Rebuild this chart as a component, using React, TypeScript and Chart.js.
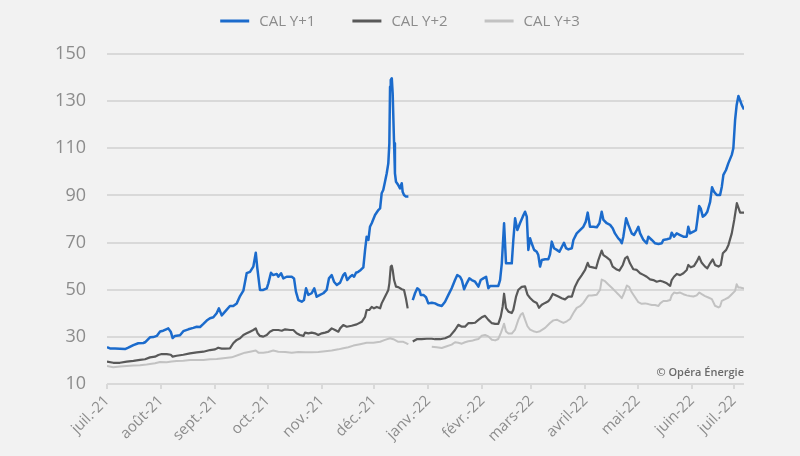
import React, { useEffect, useRef } from "react";
import { Chart, registerables } from "chart.js";

Chart.register(...registerables);

const monthLabels = ["juil.-21", "août-21", "sept.-21", "oct.-21", "nov.-21", "déc.-21", "janv.-22", "févr.-22", "mars-22", "avril-22", "mai-22", "juin-22", "juil.-22"];
const tickDays = [0, 31, 62, 92, 123, 153, 184, 215, 243, 274, 304, 335, 359];
const yTicks = [10, 30, 50, 70, 90, 110, 130, 150];

const seriesNames = ["CAL Y+1", "CAL Y+2", "CAL Y+3"];

// CAL Y+1 (day index from 1 July 2021, value)
const y1Days = [0, 1.7, 4.6, 7.4, 10.3, 12.2, 15.1, 17.9, 20.8, 21.8, 24.6, 26.5, 28.5, 30.4, 32.2, 34.2, 35.1, 36.5, 37.6, 38.9, 41.8, 43.7, 46.6, 49.4, 51.4, 53.3, 55.2, 57.1, 59.0, 60.9, 62.8, 64.1, 65.7, 67.6,
  70.4, 72.3, 74.3, 76.2, 78.1, 80.0, 81.9, 83.8, 85.2, 86.1, 87.6, 89.5, 91.5, 92.4, 93.9, 95.2, 97.2, 98.1, 99.7, 101.0, 102.9, 105.8, 107.1, 108.2, 109.6, 111.5, 112.8, 114.0, 115.3, 117.2, 118.7, 120.1, 122.0, 123.9, 125.8, 127.1, 128.7, 130.0, 131.6,
  133.5, 135.3, 136.3, 137.6, 139.2, 140.5, 141.5, 142.6, 143.9, 145.3, 146.8, 147.8, 148.7, 149.7, 150.6, 151.6, 153.5, 155.4, 156.4, 157.3, 158.2, 159.2, 160.2, 161.1, 161.7, 162.1, 162.5, 163.1, 163.6, 164.4, 164.9, 165.5, 166.8, 167.8, 168.8, 169.3, 170.1, 171.2, 172.6,
  174,
  175.1, 176.4, 177.7, 178.9, 179.7, 181.2, 182.7, 184.0, 186.0, 187.9, 189.7, 191.7, 193.6, 195.5, 197.4, 199.3, 200.6, 202.2, 203.2, 204.5, 206.0, 207.5, 208.9, 210.8, 212.7, 214.0, 215.5, 217.1, 218.4, 219.4, 221.2, 224.1, 225.1, 226.1, 227.4, 228.5, 230.4, 231.8, 232.7, 233.7, 235.0, 236.5, 238.1, 239.4, 240.4, 241.3, 242.3, 243.2, 244.6, 246.1, 247.0, 248.0, 249.0, 250.9, 252.7, 253.7,
  254.7, 256.0, 257.6, 259.1, 260.4, 261.7, 262.9, 264.2, 266.2, 267.1, 269.0, 270.9, 272.8, 274.2, 275.3, 276.6, 278.5, 280.5, 282.0, 283.3, 284.3, 286.2, 288.1, 289.6, 290.9, 292.8,
  293.8, 294.8, 295.7, 297.3, 298.6, 300.5, 301.8, 303.4, 304.3, 305.3, 307.2, 309.1, 310.0, 312.0, 313.9, 315.8, 317.7, 318.6, 320.6, 322.5, 323.4, 324.7, 326.3, 328.2, 330.1, 332.0, 332.9, 333.9, 335.8, 337.3, 338.1, 339.1, 340.0, 341.2, 342.5, 343.8, 345.4, 346.5, 347.6, 349.2, 351.1, 352.1, 353.0, 354.5, 355.8, 357.8, 358.7, 359.7, 360.6, 361.6, 362.5, 363.5, 364.8];
const y1Values = [25.6, 25.1, 25.1, 25.0, 24.8, 25.4, 26.5, 27.3, 27.4, 27.7, 29.8, 29.9, 30.4, 32.3, 32.6, 33.3, 33.6, 32.2, 29.5, 30.4, 30.7, 32.4, 33.2, 33.8, 34.3, 34.2, 35.5, 36.9, 37.9, 38.3, 40.0, 42.1, 39.1, 40.7,
  43.1, 43.1, 44.2, 47.3, 49.6, 57.0, 57.6, 59.8, 65.7, 59.1, 49.9, 49.9, 50.6, 52.7, 57.2, 56.2, 56.7, 55.5, 57.0, 54.8, 55.5, 55.5, 54.8, 49.2, 45.6, 44.9, 45.6, 50.6, 47.8, 48.5, 50.6, 47.0, 47.8, 48.5, 49.9, 54.8, 56.2, 53.4, 52.0,
  53.0, 56.2, 57.0, 54.1, 55.5, 56.2, 55.5, 57.2, 57.6, 58.4, 59.5, 66.9, 72.5, 71.1, 76.7, 78.2, 81.7, 83.8, 84.5, 90.9, 92.3, 95.8, 99.4, 103.6, 112.1, 136.1, 139.0, 139.7, 133.3, 112.1, 99.4, 95.8, 94.4, 93.0, 95.2, 91.6, 90.2, 89.5, 89.5,
  null,
  45.6, 48.5, 50.6, 49.9, 47.8, 47.8, 46.8, 44.2, 44.5, 44.2, 43.5, 43.1, 44.9, 47.8, 50.6, 54.1, 56.2, 55.5, 54.1, 50.2, 52.7, 54.8, 54.1, 53.4, 51.3, 54.1, 54.8, 55.5, 50.6, 51.6, 51.6, 51.6, 54.1, 61.2, 78.2, 61.2, 61.2, 61.2, 71.1, 80.3, 75.3, 78.2, 81.0, 83.1, 81.0, 66.9, 71.8, 69.7, 66.9, 66.1, 64.7, 59.8, 62.6, 62.9, 62.9, 65.0,
  70.4, 67.6, 66.9, 66.1, 68.0, 69.9, 67.6, 67.1, 67.6, 71.1, 73.9, 75.3, 76.7, 78.9, 82.7, 76.7, 76.7, 76.5, 78.2, 83.1, 79.6, 78.2, 77.5, 76.1, 73.9, 71.8,
  71.1, 69.7, 72.5, 80.3, 77.5, 73.9, 73.2, 75.3, 76.7, 73.9, 71.1, 69.7, 72.5, 71.1, 69.7, 69.4, 69.7, 71.1, 71.4, 71.8, 74.2, 72.5, 73.9, 73.2, 72.5, 72.5, 76.7, 73.9, 74.6, 75.3, 79.6, 85.5, 84.5, 81.0, 81.7, 83.1, 87.3, 93.5, 91.6, 90.2, 90.2, 93.7, 98.7, 100.8, 103.6, 107.2, 110.0, 122.0, 128.4, 132.2, 130.5, 128.4, 126.5];

// CAL Y+2
const y2Days = [0, 3.6, 7.4, 11.3, 15.1, 18.9, 21.8, 24.6, 27.5, 29.4, 31.3, 34.2, 36.5, 37.6, 39.9, 43.7, 47.5, 51.4, 55.2, 59.0, 61.9, 63.7, 65.7, 67.6,
  70.4, 72.3, 74.3, 76.2, 78.1, 80.0, 81.9, 83.8, 85.2, 86.3, 87.6, 89.5, 91.5, 93.3, 95.2, 98.1, 100.1, 102.0, 104.8, 106.7, 108.6, 110.5, 112.5, 113.4, 115.3, 117.2, 119.1, 121.0, 123.0, 124.9, 126.7, 128.7, 130.6, 132.5,
  133.5, 135.3, 137.3, 140.1, 143.0, 145.9, 147.8, 148.7, 150.2, 151.6, 152.9, 154.5, 156.4, 157.3, 158.7, 160.2, 161.1, 161.7, 162.5, 163.1, 163.6, 164.4, 165.5, 166.8, 168.8, 170.1, 171.2, 172.2,
  174,
  175.1, 177.4, 180.2, 183.1, 186.0, 187.9, 190.7, 193.6, 196.5, 199.3, 201.2, 203.2, 205.0, 206.9, 208.9, 210.8, 212.7, 214.6, 216.5, 218.4, 220.4, 222.3, 224.1, 225.5, 226.6, 227.4, 228.5, 229.9, 231.8, 232.7, 234.3, 235.6, 237.5, 239.4, 240.8, 242.3, 244.2, 246.1, 247.4, 249.0, 250.9, 252.7, 253.7,
  255.3, 256.6, 258.5, 260.4, 262.3, 264.2, 266.2, 268.0, 269.9, 271.9, 273.8, 275.3, 276.2, 278.2, 280.1, 281.4, 283.3, 284.3, 286.2, 288.1, 289.6, 291.6, 293.4,
  295.4, 296.7, 298.0, 299.5, 301.4, 303.4, 305.3, 307.2, 309.1, 311.0, 312.9, 314.8, 316.8, 318.6, 320.6, 322.5, 323.4, 324.7, 326.3, 328.2, 330.1, 332.0, 332.9, 334.3, 336.2, 337.7, 339.1, 340.6, 342.5, 343.8, 345.4, 346.9, 348.2, 350.2, 351.5, 352.7, 354.6, 355.9, 357.8, 359.2, 360.7, 361.7, 362.6, 364.8];
const y2Values = [19.5, 19.0, 19.0, 19.5, 19.8, 20.2, 20.5, 21.3, 21.6, 22.3, 22.7, 22.7, 22.4, 21.6, 22.0, 22.4, 23.0, 23.4, 23.7, 24.4, 24.7, 25.4, 25.0, 25.0,
  25.1, 27.3, 28.7, 29.4, 30.8, 31.5, 32.2, 32.9, 33.6, 31.5, 30.4, 30.1, 30.8, 32.2, 32.9, 32.9, 32.6, 33.2, 32.9, 32.9, 31.5, 30.8, 30.4, 31.8, 31.5, 31.8, 31.5, 30.8, 31.5, 31.8, 32.2, 33.6, 32.9, 32.2,
  33.6, 35.0, 34.3, 34.7, 35.3, 36.4, 38.5, 41.4, 41.4, 42.7, 42.1, 42.7, 42.1, 44.2, 46.3, 48.5, 49.9, 52.7, 59.8, 60.2, 58.4, 54.1, 51.3, 51.1, 50.2, 49.9, 46.3, 42.1,
  null,
  28.0, 29.0, 29.0, 29.2, 29.2, 29.0, 29.0, 29.4, 30.4, 32.9, 35.1, 34.3, 34.3, 35.8, 35.8, 36.0, 37.2, 38.3, 38.9, 37.2, 35.8, 35.5, 35.5, 38.6, 42.9, 48.3, 42.2, 40.7, 40.1, 41.5, 47.2, 50.0, 51.2, 51.4, 47.9, 46.5, 45.1, 44.4, 42.3, 43.6, 44.4, 45.1, 46.0,
  48.2, 47.8, 47.1, 46.4, 45.9, 47.1, 47.1, 51.3, 54.1, 56.2, 58.4, 61.4, 59.8, 59.5, 59.1, 62.6, 66.6, 64.7, 63.7, 62.6, 59.8, 58.7, 58.1,
  60.5, 63.3, 64.0, 61.2, 58.7, 58.4, 57.0, 56.3, 55.5, 54.4, 54.1, 53.4, 53.8, 53.4, 52.7, 51.6, 54.1, 55.5, 56.7, 56.2, 57.0, 58.4, 60.5, 59.5, 60.1, 61.9, 64.0, 61.4, 59.8, 59.1, 61.2, 62.9, 60.5, 59.8, 60.5, 65.5, 66.9, 69.0, 73.9, 79.6, 86.7, 84.6, 82.7, 82.7];

// CAL Y+3
const y3Days = [0, 3.6, 7.4, 11.3, 15.1, 18.9, 22.7, 27.5, 30.4, 34.2, 37.0, 39.9, 43.7, 47.5, 51.4, 55.2, 59.0, 62.8, 66.6,
  71.4, 75.2, 79.0, 81.9, 85.2, 86.7, 89.5, 92.4, 95.2, 98.1, 102.0, 105.8, 109.6, 113.4, 117.2, 121.0, 124.9, 128.7, 132.5,
  135.3, 138.2, 141.1, 144.9, 148.7, 152.5, 156.4, 159.2, 162.1, 164.0, 166.8, 169.7, 171.6, 172.6,
  180,
  186.0, 188.8, 191.7, 194.6, 197.4, 199.3, 201.2, 203.2, 205.0, 206.9, 208.9, 210.8, 212.7, 214.6, 216.5, 218.4, 220.4, 222.3, 224.1, 225.5, 226.6, 227.4, 228.5, 229.9, 231.8, 233.7, 235.6, 237.0, 238.1, 239.4, 240.8, 242.3, 244.2, 246.1, 248.0,
  250.9, 253.7, 255.6, 257.6, 259.5, 261.4, 263.3, 265.2, 267.1, 269.0, 270.9, 272.8, 274.7, 275.7, 277.6, 280.5, 282.4, 283.3, 285.2, 287.1, 289.1, 291.0, 292.9,
  294.8, 296.1, 297.7, 299.1, 300.5, 302.4, 304.3, 306.2, 308.1, 310.0, 312.0, 313.9, 315.8, 316.8, 318.6, 320.6, 322.5, 323.4, 324.7, 326.3, 328.2, 330.1, 332.0, 333.9, 335.8, 337.7, 339.2, 340.6, 342.5, 344.4, 346.4, 348.2, 350.2, 351.1, 352.1, 354.1, 355.9, 357.8, 359.7, 360.6, 361.6, 362.6, 364.8];
const y3Values = [17.6, 17.1, 17.4, 17.6, 17.8, 18.0, 18.3, 18.8, 19.3, 19.2, 19.5, 19.8, 19.9, 20.2, 20.2, 20.2, 20.5, 20.6, 20.9,
  21.3, 22.3, 23.3, 23.7, 24.2, 23.3, 23.3, 23.6, 24.2, 23.7, 23.6, 23.3, 23.6, 23.5, 23.5, 23.6, 23.9, 24.2, 24.7,
  25.2, 25.6, 26.3, 26.9, 27.5, 27.5, 27.9, 28.7, 29.4, 29.0, 27.9, 27.9, 27.2, 26.9,
  null,
  25.8, 25.6, 25.3, 26.0, 26.7, 27.7, 27.5, 27.1, 27.7, 28.1, 28.3, 28.8, 29.1, 30.5, 30.8, 30.2, 28.8, 28.5, 29.1, 31.6, 33.8, 35.6, 32.3, 31.4, 31.4, 33.1, 37.3, 39.5, 40.1, 37.3, 34.5, 33.1, 32.4, 32.0, 32.4,
  33.8, 35.9, 37.0, 37.3, 36.6, 35.9, 36.6, 37.6, 40.1, 42.3, 43.0, 44.4, 46.5, 47.5, 47.5, 47.9, 50.0, 54.3, 53.6, 52.2, 50.8, 49.4, 48.0,
  46.4, 48.5, 51.8, 51.1, 48.9, 46.8, 44.7, 44.0, 44.2, 43.9, 43.5, 43.5, 43.1, 44.2, 45.2, 45.2, 45.6, 47.6, 48.8, 48.5, 48.8, 48.1, 47.6, 47.3, 47.1, 47.6, 48.8, 48.1, 47.3, 46.7, 46.0, 43.2, 42.5, 42.9, 45.3, 46.0, 46.7, 48.1, 49.5, 52.3, 50.9, 50.9, 50.5];

const creditText = "© Opéra Énergie";

const FONT = '"Open Sans", "Noto Sans", sans-serif';
const TEXT_GREY = "#8c8c8c";
const GRID = "#d9d9d9";
const BG = "#f2f2f2";
const colors = ["#1b6bcc", "#595959", "#c2c2c2"];
const widths = [2.5, 2.2, 2];

const zip = (days: number[], vals: (number | null)[]) => days.map((d, i) => ({ x: d, y: vals[i] }));

const bgPlugin = {
  id: "bg",
  beforeDraw(chart: any) {
    const ctx = chart.ctx;
    ctx.save();
    ctx.fillStyle = BG;
    ctx.fillRect(0, 0, chart.width, chart.height);
    ctx.restore();
  },
};

const legendPlugin = {
  id: "customLegend",
  afterDraw(chart: any) {
    const ctx = chart.ctx;
    ctx.save();
    ctx.font = `15px ${FONT}`;
    const lineW = 29;
    const textGap = 10;
    const itemGap = 37;
    const items = chart.data.datasets.map((ds: any) => ({
      label: ds.label,
      color: ds.borderColor,
      w: lineW + textGap + ctx.measureText(ds.label).width,
    }));
    const total = items.reduce((a: number, it: any) => a + it.w, 0) + itemGap * (items.length - 1);
    let x = chart.width / 2 - total / 2;
    const y = 21;
    for (const it of items) {
      ctx.strokeStyle = it.color;
      ctx.lineWidth = 3;
      ctx.beginPath();
      ctx.moveTo(x, y);
      ctx.lineTo(x + lineW, y);
      ctx.stroke();
      ctx.fillStyle = TEXT_GREY;
      ctx.textAlign = "left";
      ctx.textBaseline = "middle";
      ctx.fillText(it.label, x + lineW + textGap, y + 1);
      x += it.w + itemGap;
    }
    ctx.font = `600 11px ${FONT}`;
    ctx.fillStyle = "#6a6a6a";
    ctx.textAlign = "right";
    ctx.textBaseline = "middle";
    ctx.fillText(creditText, chart.chartArea.right, 373);
    ctx.restore();
  },
};

export default function App() {
  const ref = useRef<HTMLCanvasElement | null>(null);

  useEffect(() => {
    document.body.style.background = BG;
    const canvas = ref.current;
    if (!canvas) return;
    const valueSets = [y1Values, y2Values, y3Values];
    const daySets = [y1Days, y2Days, y3Days];
    const chart = new Chart(canvas, {
      type: "line",
      data: {
        datasets: seriesNames.map((name, i) => ({
          label: name,
          data: zip(daySets[i], valueSets[i]),
          borderColor: colors[i],
          backgroundColor: colors[i],
          borderWidth: widths[i],
          pointRadius: 0,
          pointHoverRadius: 0,
          tension: 0,
          spanGaps: false,
          borderJoinStyle: "round",
        })),
      },
      options: {
        responsive: false,
        animation: false,
        events: [],
        layout: { padding: { top: 54, right: 56, bottom: 0, left: 0 } },
        plugins: {
          legend: { display: false },
          tooltip: { enabled: false },
        },
        scales: {
          x: {
            type: "linear",
            min: 0,
            max: 364.8,
            afterBuildTicks: (s: any) => {
              s.ticks = tickDays.map((v) => ({ value: v }));
            },
            afterFit: (s: any) => {
              s.height = 72;
            },
            ticks: {
              autoSkip: false,
              maxRotation: 45,
              minRotation: 45,
              padding: 3,
              color: TEXT_GREY,
              font: { family: FONT, size: 15 },
              callback: (_v: any, i: number) => monthLabels[i],
            },
            grid: {
              drawOnChartArea: false,
              drawTicks: true,
              tickLength: 5,
              color: GRID,
              lineWidth: 2,
            },
            border: { display: false },
          },
          y: {
            min: 10,
            max: 150,
            afterBuildTicks: (s: any) => {
              s.ticks = yTicks.map((v) => ({ value: v }));
            },
            afterFit: (s: any) => {
              s.width = 107;
            },
            ticks: {
              padding: 21,
              color: TEXT_GREY,
              font: { family: FONT, size: 18 },
            },
            grid: { color: GRID, lineWidth: 2, drawTicks: false },
            border: { display: false },
          },
        },
      },
      plugins: [bgPlugin, legendPlugin],
    });
    return () => chart.destroy();
  }, []);

  return (
    <div style={{ position: "fixed", left: 0, top: 0, width: 800, height: 456, background: BG }}>
      <canvas ref={ref} width={800} height={456} style={{ display: "block", width: 800, height: 456 }} />
    </div>
  );
}
